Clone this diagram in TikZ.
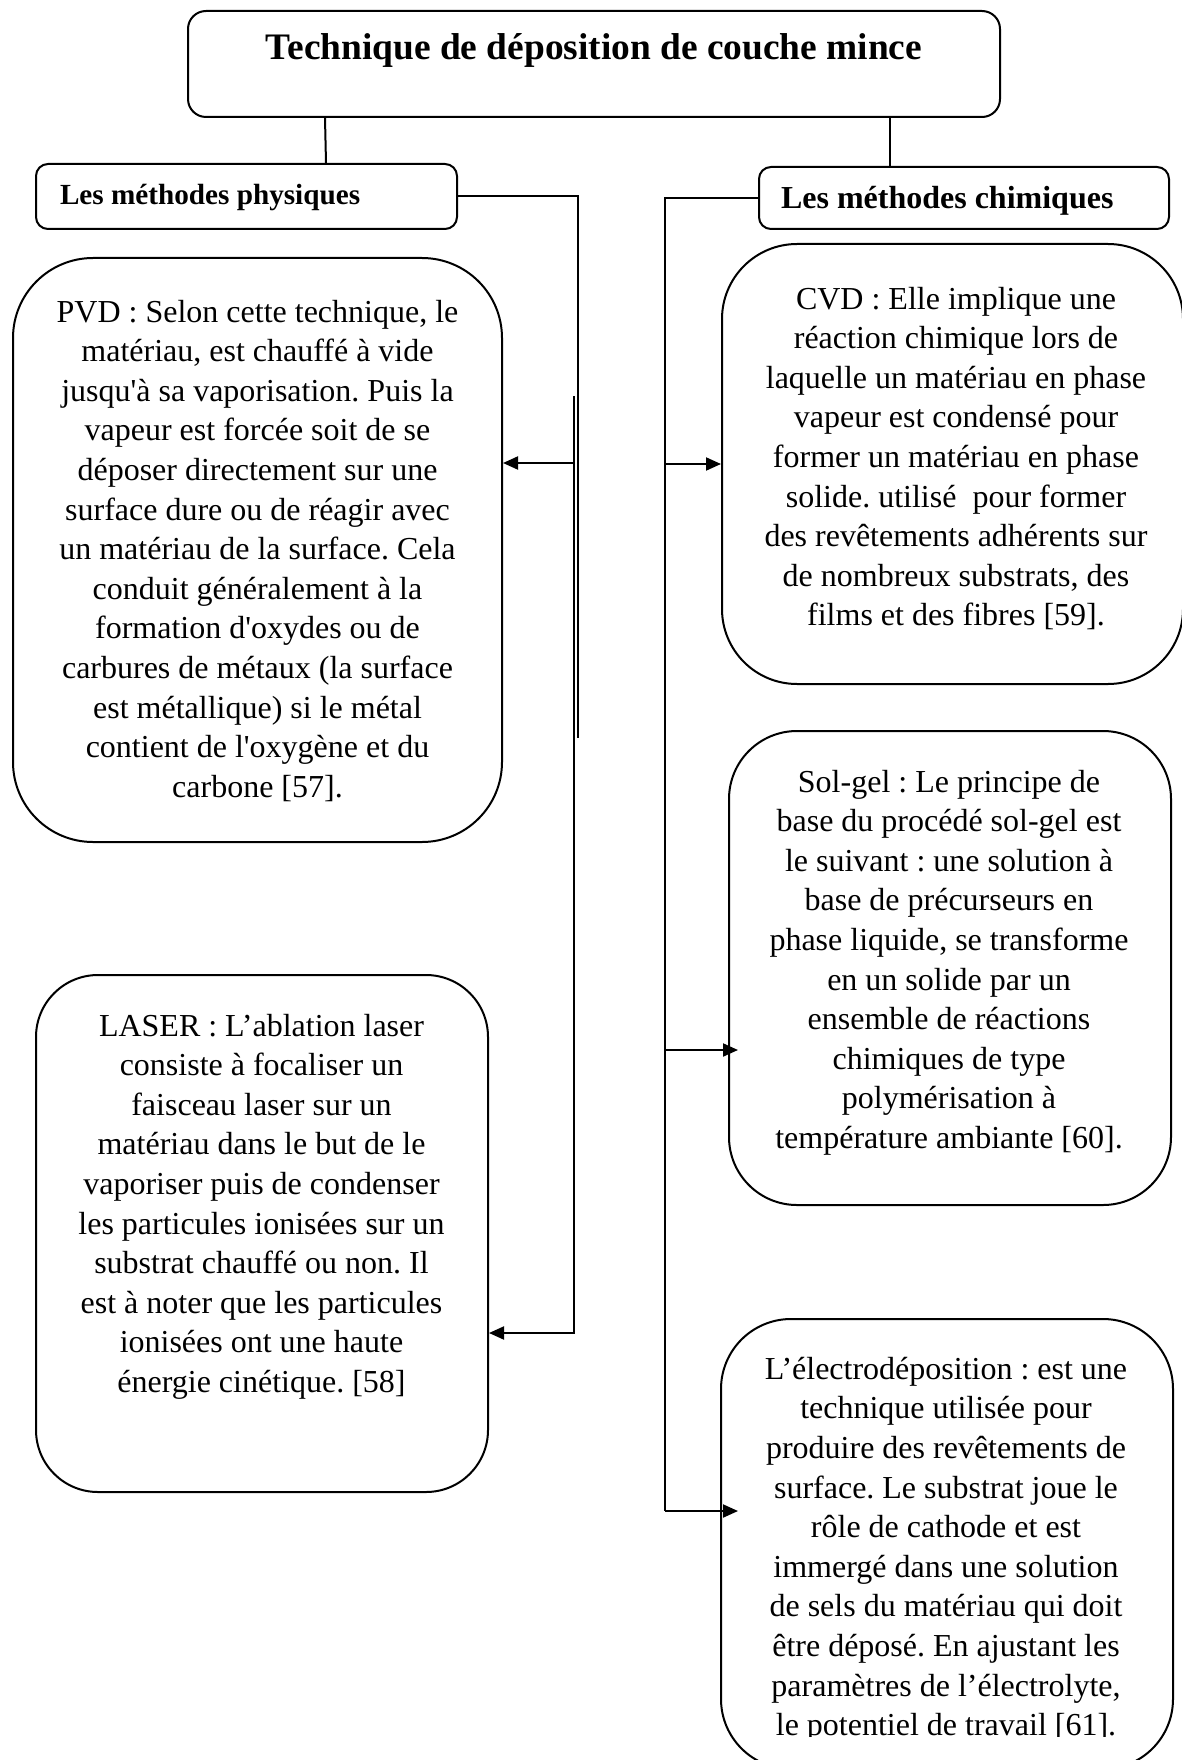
\documentclass[tikz,border=0pt]{standalone}
\usepackage{fontspec}
\setmainfont{Liberation Serif}[Ligatures=TeXOff]
\usetikzlibrary{arrows.meta,calc}
\newcommand{\bodyfnt}{\fontsize{32}{39.6}\selectfont}
\frenchspacing
\begin{document}
\begin{tikzpicture}[x=1pt,y=-1pt,line width=2pt,
  rbox/.style={draw,line width=2pt,rectangle,rounded corners=#1,inner sep=0pt,anchor=north west},
  btext/.style={anchor=north,align=center,inner sep=0pt,font=\bodyfnt},
  arr/.style={-{Triangle[length=15pt,width=13pt]}}]
\useasboundingbox (0,0) rectangle (1182,1760);
\clip (0,0) rectangle (1182,1760);
% header boxes
\node[rbox=18pt,minimum width=812pt,minimum height=106pt] (top) at (187,10) {};
\node[anchor=base,inner sep=0pt,font=\fontsize{37.4}{44}\selectfont\bfseries] (toptxt) at (594,60) {Technique de déposition de couche mince};
\node[rbox=12pt,minimum width=421pt,minimum height=65pt] (phys) at (35,163) {};
\node[anchor=base west,inner sep=0pt,font=\fontsize{29.2}{34}\selectfont\bfseries] (physt) at (59,205) {Les méthodes physiques};
\node[rbox=12pt,minimum width=410pt,minimum height=62pt] (chim) at (758,166) {};
\node[anchor=base west,inner sep=0pt,font=\fontsize{32}{38}\selectfont\bfseries] (chimt) at (780,209) {Les méthodes chimiques};
% content boxes
\node[rbox=80pt,minimum width=489pt,minimum height=584pt] (pvd) at (12,257) {};
\node[rbox=75pt,minimum width=461pt,minimum height=440pt] (cvd) at (721,243) {};
\node[rbox=68pt,minimum width=442pt,minimum height=474pt] (sol) at (728,730) {};
\node[rbox=62pt,minimum width=452pt,minimum height=517pt] (laser) at (35,974) {};
\node[rbox=70pt,minimum width=452pt,minimum height=450pt] (elec) at (720,1318) {};
% texts
\node[btext] (pvdt) at (257.5,293.3) {\strut PVD : Selon cette technique, le\\
matériau, est chauffé à vide\\
jusqu'à sa vaporisation. Puis la\\
vapeur est forcée soit de se\\
déposer directement sur une\\
surface dure ou de réagir avec\\
un matériau de la surface. Cela\\
conduit généralement à la\\
formation d'oxydes ou de\\
carbures de métaux (la surface\\
est métallique) si le métal\\
contient de l'oxygène et du\\
carbone [57].};
\node[btext] (cvdt) at (956,280.3) {\strut CVD : Elle implique une\\
réaction chimique lors de\\
laquelle un matériau en phase\\
vapeur est condensé pour\\
former un matériau en phase\\
solide. utilisé\ \ pour former\\
des revêtements adhérents sur\\
de nombreux substrats, des\\
films et des fibres [59].};
\node[btext] (solt) at (949,763.3) {\strut Sol-gel : Le principe de\\
base du procédé sol-gel est\\
le suivant : une solution à\\
base de précurseurs en\\
phase liquide, se transforme\\
en un solide par un\\
ensemble de réactions\\
chimiques de type\\
polymérisation à\\
température ambiante [60].};
\node[btext] (lasert) at (261.5,1007.3) {\strut LASER : L’ablation laser\\
consiste à focaliser un\\
faisceau laser sur un\\
matériau dans le but de le\\
vaporiser puis de condenser\\
les particules ionisées sur un\\
substrat chauffé ou non. Il\\
est à noter que les particules\\
ionisées ont une haute\\
énergie cinétique. [58]};
\begin{scope}
\clip (700,1300) rectangle (1190,1736);
\node[btext] (elect) at (946,1350.5) {\strut L’électrodéposition : est une\\
technique utilisée pour\\
produire des revêtements de\\
surface. Le substrat joue le\\
rôle de cathode et est\\
immergé dans une solution\\
de sels du matériau qui doit\\
être déposé. En ajustant les\\
paramètres de l’électrolyte,\\
le potentiel de travail [61].};
\end{scope}
% connectors from title
\draw ($(top.south west)+(138,0)$) -- ($(phys.north west)+(291,0)$);
\draw ($(top.south west)+(703,0)$) -- ($(chim.north west)+(132,0)$);
% physical branch
\coordinate (pA) at (578,738);
\coordinate (pB) at (574,396);
\coordinate (pj) at (574,463);
\draw (phys.east) -| (pA);
\draw[arr] (pB) |- ($(laser.north east)+(0,359)$);
\draw[arr] (pj) -- (pj -| pvd.east);
% chemical branch
\coordinate (c1) at (665,464);
\coordinate (c2) at (665,1050);
\coordinate (c3) at (665,1511);
\draw (chim.west) -| (c3);
\draw[arr] (c1) -- (c1 -| cvd.west);
\draw[arr] (c2) -- ($(c2 -| sol.west)+(10,0)$);
\draw[arr] (c3) -- ($(c3 -| elec.west)+(18,0)$);
\end{tikzpicture}
\end{document}
